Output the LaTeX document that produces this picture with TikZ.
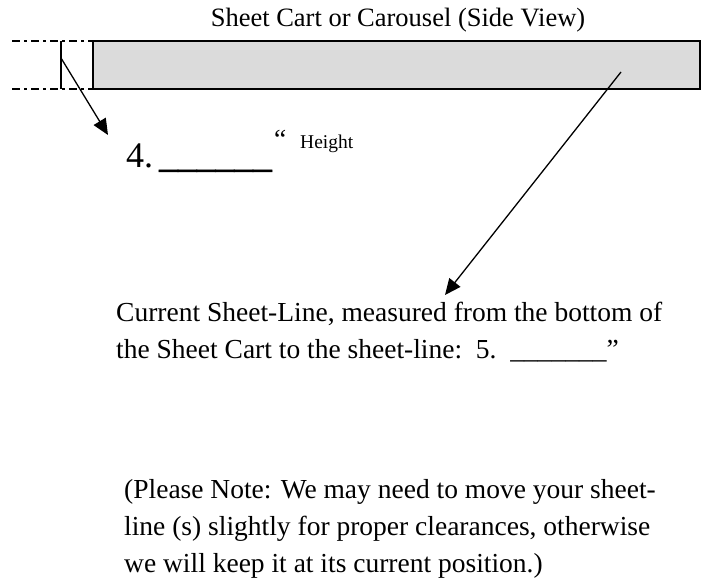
\documentclass[tikz,border=0pt]{standalone}
\usepackage{fontspec}
\setmainfont{Liberation Serif}
\usepackage{tikz}
\usetikzlibrary{arrows.meta}

\begin{document}
\begin{tikzpicture}[x=1pt,y=-1pt,
  txt/.style={inner sep=0pt,anchor=base west,font=\fontsize{27.5}{33}\selectfont},
  guide/.style={line width=1.6pt,dash pattern=on 8pt off 4pt on 3pt off 4pt},
  pointer/.style={line width=1.3pt,-{Triangle[length=16pt,width=14pt]}}]
  \useasboundingbox (0,0) rectangle (707,586);
  % cart seen from the side
  \draw[line width=1.8pt,fill=black!14] (93,41) rectangle (700,89);
  \draw[guide] (12,41) -- (93,41);
  \draw[guide] (12,89) -- (93,89);
  \draw[line width=1.6pt] (61,41) -- (61,89);
  \coordinate (hgt) at (61,58);
  \coordinate (line) at (621,72);
  \node[inner sep=0pt,anchor=base,font=\fontsize{26.5}{30}\selectfont] (title) at (398,27) {Sheet Cart or Carousel (Side View)};
  % height blank
  \node[txt,font=\fontsize{36}{40}\selectfont] (four) at (126,167) {4.\,{\fontsize{37.5}{40}\selectfont\addfontfeature{FakeBold=2}\_\_\_\_\_\_}};
  \node[txt] (quote) at (274,148) {“};
  \node[txt,font=\fontsize{19.5}{23}\selectfont] (height) at (300,148) {Height};
  % sheet-line blank
  \node[txt] (cur1) at (116,321) {Current Sheet-Line, measured from the bottom of};
  \node[txt] (cur2) at (116,358) {the Sheet Cart to the sheet-line:\ \ 5.\ \ \_\_\_\_\_\_\_”};
  % note
  \node[txt] (note1) at (124,498) {(Please Note: We may need to move your sheet-};
  \node[txt] (note2) at (124,535) {line (s) slightly for proper clearances, otherwise};
  \node[txt] (note3) at (124,572) {we will keep it at its current position.)};
  \coordinate (tip4) at (108,135);
  \coordinate (tip5) at (445,295);
  \draw[pointer] (hgt) -- (tip4);
  \draw[pointer] (line) -- (tip5);
\end{tikzpicture}
\end{document}
